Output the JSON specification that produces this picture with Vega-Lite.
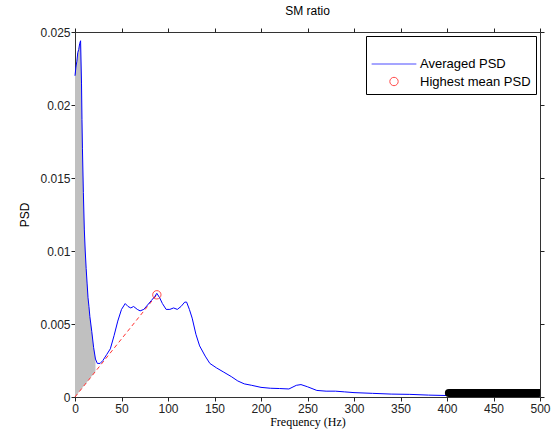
{
  "$schema": "https://vega.github.io/schema/vega-lite/v6.json",
  "width": 465,
  "height": 365,
  "autosize": {"type": "none"},
  "padding": {"left": 75, "top": 32, "right": 20, "bottom": 38},
  "background": "white",
  "title": {"text": "SM ratio", "font": "Liberation Sans", "fontSize": 12, "fontWeight": "normal", "color": "black", "offset": 8},
  "config": {
    "view": {"stroke": "#333333", "strokeWidth": 1},
    "axis": {"grid": false, "domain": false, "ticks": true, "tickColor": "#222222", "tickWidth": 1, "tickSize": 4, "labelFont": "Liberation Sans", "labelFontSize": 12, "labelColor": "#222222", "titleFontWeight": "normal", "titleColor": "black"}
  },
  "datasets": {
    "psd": [
      {"f": 0, "p": 0.0220}, {"f": 1, "p": 0.0226}, {"f": 2, "p": 0.0230}, {"f": 3, "p": 0.0236},
      {"f": 4, "p": 0.0238}, {"f": 5, "p": 0.0242}, {"f": 6, "p": 0.0244}, {"f": 7, "p": 0.0215},
      {"f": 7.5, "p": 0.0190}, {"f": 8, "p": 0.0170}, {"f": 9, "p": 0.0140}, {"f": 10, "p": 0.0115},
      {"f": 11, "p": 0.0100}, {"f": 12, "p": 0.0088}, {"f": 13, "p": 0.0078}, {"f": 14, "p": 0.0068},
      {"f": 15, "p": 0.0062}, {"f": 16, "p": 0.0055}, {"f": 18, "p": 0.0045}, {"f": 20, "p": 0.0034},
      {"f": 22, "p": 0.0026}, {"f": 24, "p": 0.0023}, {"f": 27, "p": 0.0023}, {"f": 30, "p": 0.0025},
      {"f": 34, "p": 0.0029}, {"f": 38, "p": 0.0033}, {"f": 42, "p": 0.0042}, {"f": 46, "p": 0.0052},
      {"f": 50, "p": 0.0060}, {"f": 54, "p": 0.0064}, {"f": 57, "p": 0.0062}, {"f": 60, "p": 0.0061},
      {"f": 63, "p": 0.0062}, {"f": 67, "p": 0.0060}, {"f": 70, "p": 0.0059}, {"f": 74, "p": 0.0060},
      {"f": 78, "p": 0.0063}, {"f": 82, "p": 0.0066}, {"f": 86, "p": 0.0069}, {"f": 88, "p": 0.0071},
      {"f": 91, "p": 0.0068}, {"f": 94, "p": 0.0064}, {"f": 98, "p": 0.0060}, {"f": 102, "p": 0.0060},
      {"f": 106, "p": 0.0061}, {"f": 110, "p": 0.0060}, {"f": 114, "p": 0.0062}, {"f": 118, "p": 0.0065},
      {"f": 120, "p": 0.0065}, {"f": 123, "p": 0.0060}, {"f": 126, "p": 0.0054}, {"f": 130, "p": 0.0043},
      {"f": 134, "p": 0.0035}, {"f": 140, "p": 0.0028}, {"f": 145, "p": 0.0023}, {"f": 152, "p": 0.0020},
      {"f": 160, "p": 0.0017}, {"f": 168, "p": 0.0014}, {"f": 175, "p": 0.0011}, {"f": 182, "p": 0.0009},
      {"f": 190, "p": 0.0008}, {"f": 200, "p": 0.00066}, {"f": 210, "p": 0.0006}, {"f": 220, "p": 0.00058},
      {"f": 230, "p": 0.00055}, {"f": 238, "p": 0.0008}, {"f": 243, "p": 0.00085}, {"f": 250, "p": 0.0007},
      {"f": 260, "p": 0.00045}, {"f": 270, "p": 0.0004}, {"f": 280, "p": 0.0004}, {"f": 290, "p": 0.00035},
      {"f": 300, "p": 0.0003}, {"f": 320, "p": 0.00025}, {"f": 340, "p": 0.0002}, {"f": 360, "p": 0.00018},
      {"f": 380, "p": 0.00013}, {"f": 400, "p": 0.0001}, {"f": 450, "p": 0.00008}, {"f": 500, "p": 0.00008}
    ],
    "shade": [
      {"f": 0, "p": 0.0220, "b": 0}, {"f": 1, "p": 0.0226, "b": 0.00008}, {"f": 2, "p": 0.0230, "b": 0.00016},
      {"f": 3, "p": 0.0236, "b": 0.00024}, {"f": 4, "p": 0.0238, "b": 0.00032}, {"f": 5, "p": 0.0242, "b": 0.0004},
      {"f": 6, "p": 0.0244, "b": 0.00048}, {"f": 7, "p": 0.0215, "b": 0.00056}, {"f": 7.5, "p": 0.0190, "b": 0.0006},
      {"f": 8, "p": 0.0170, "b": 0.00064}, {"f": 9, "p": 0.0140, "b": 0.00072}, {"f": 10, "p": 0.0115, "b": 0.0008},
      {"f": 11, "p": 0.0100, "b": 0.00087}, {"f": 12, "p": 0.0088, "b": 0.00095}, {"f": 13, "p": 0.0078, "b": 0.00103},
      {"f": 14, "p": 0.0068, "b": 0.00111}, {"f": 15, "p": 0.0062, "b": 0.00119}, {"f": 16, "p": 0.0055, "b": 0.00127},
      {"f": 18, "p": 0.0045, "b": 0.00143}, {"f": 20, "p": 0.0034, "b": 0.00159}, {"f": 22, "p": 0.0026, "b": 0.00175}
    ],
    "diag": [{"f": 0, "p": 0}, {"f": 88, "p": 0.0070}],
    "peak": [{"f": 88, "p": 0.0070, "series": "Highest mean PSD"}],
    "bar": [{"f": 402, "p": 0.00028}, {"f": 499, "p": 0.00028}]
  },
  "layer": [
    {
      "data": {"name": "shade"},
      "mark": {"type": "area", "color": "#c0c0c0", "opacity": 1},
      "encoding": {
        "x": {"field": "f", "type": "quantitative", "scale": {"domain": [0, 500], "nice": false},
              "axis": {"values": [0, 50, 100, 150, 200, 250, 300, 350, 400, 450, 500], "labelFlush": false, "labelPadding": 2, "title": "Frequency (Hz)", "titleFont": "Liberation Serif", "titleFontSize": 12, "titlePadding": 2}},
        "y": {"field": "p", "type": "quantitative", "scale": {"domain": [0, 0.025], "nice": false},
              "axis": {"values": [0, 0.005, 0.01, 0.015, 0.02, 0.025], "labelPadding": 1, "format": "~g", "title": "PSD", "titleFont": "Liberation Sans", "titleFontSize": 12, "titlePadding": 8}},
        "y2": {"field": "b"}
      }
    },
    {
      "data": {"name": "diag"},
      "mark": {"type": "line", "color": "#ff3030", "strokeDash": [4, 3], "strokeWidth": 1},
      "encoding": {
        "x": {"field": "f", "type": "quantitative", "axis": null},
        "y": {"field": "p", "type": "quantitative", "axis": null}
      }
    },
    {
      "data": {"name": "psd"},
      "mark": {"type": "line", "strokeWidth": 1},
      "encoding": {
        "x": {"field": "f", "type": "quantitative", "axis": null},
        "y": {"field": "p", "type": "quantitative", "axis": null},
        "color": {"datum": "Averaged PSD", "type": "nominal"}
      }
    },
    {
      "data": {"name": "bar"},
      "mark": {"type": "line", "color": "black", "strokeWidth": 8, "strokeCap": "round", "clip": true},
      "encoding": {
        "x": {"field": "f", "type": "quantitative", "axis": null},
        "y": {"field": "p", "type": "quantitative", "axis": null}
      }
    },
    {
      "data": {"name": "peak"},
      "mark": {"type": "point", "filled": false, "strokeWidth": 1},
      "encoding": {
        "x": {"field": "f", "type": "quantitative", "axis": {"orient": "top", "labels": false, "title": null, "values": [0, 50, 100, 150, 200, 250, 300, 350, 400, 450, 500]}},
        "y": {"field": "p", "type": "quantitative", "axis": {"orient": "right", "labels": false, "title": null, "values": [0, 0.005, 0.01, 0.015, 0.02, 0.025]}},
        "color": {"field": "series", "type": "nominal",
                  "scale": {"domain": ["Averaged PSD", "Highest mean PSD"], "range": ["#0000ff", "#ff0000"]},
                  "legend": {"title": null, "orient": "top-right", "offset": 4, "strokeColor": "black", "fillColor": "white", "padding": 5, "labelFont": "Liberation Sans", "labelFontSize": 13, "labelColor": "black", "labelOffset": 3, "symbolStrokeWidth": 1, "rowPadding": 4, "cornerRadius": 0}},
        "shape": {"field": "series", "type": "nominal",
                  "scale": {"domain": ["Averaged PSD", "Highest mean PSD"], "range": ["stroke", "circle"]}},
        "size": {"field": "series", "type": "nominal",
                  "scale": {"domain": ["Averaged PSD", "Highest mean PSD"], "range": [2000, 70]}}
      }
    }
  ],
  "resolve": {"axis": {"x": "independent", "y": "independent"}}
}
